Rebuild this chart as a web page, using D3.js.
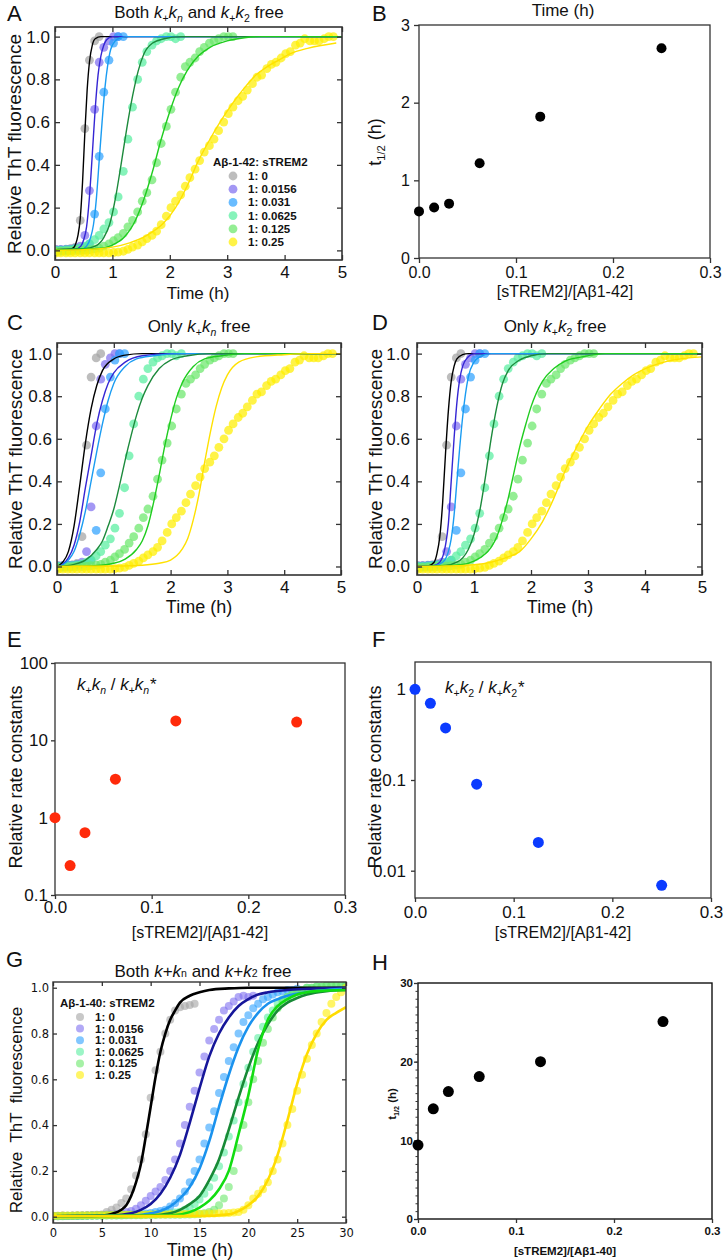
<!DOCTYPE html>
<meta charset="utf-8">
<style>
body { margin: 0; background: #fff; }
svg text { fill: #111; white-space: pre; }
</style>
<body>
<div id="figure"></div>
<script src="https://cdn.jsdelivr.net/npm/d3@7"></script>
<script>

// sTREM2 : Abeta ratios, one colour per series
var ratioLabels = ["1: 0", "1: 0.0156", "1: 0.031", "1: 0.0625", "1: 0.125", "1: 0.25"];
var dotColors = ["#a3a3a3", "#7f6ff0", "#2fa2ff", "#58eea0", "#6be86b", "#ffef00"];
var fitColors42 = ["#000000", "#3526d4", "#1a9cf2", "#1c8a3c", "#1fcc1f", "#ffe100"];
var fitColors40 = ["#000000", "#16169a", "#1a92ee", "#178a36", "#12dd12", "#ffdc00"];

// Abeta1-42 ThT kinetics (A, C, D share the same measurements), time in h
var time42 = [0.02,0.10,0.19,0.27,0.35,0.44,0.52,0.60,0.69,0.77,0.85,0.94,1.02,1.10,1.19,1.27,1.35,1.44,1.52,1.60,
  1.69,1.77,1.85,1.94,2.02,2.10,2.19,2.27,2.35,2.44,2.52,2.60,2.69,2.77,2.85,2.94,3.02,3.10,3.19,3.27,
  3.35,3.44,3.52,3.60,3.69,3.77,3.85,3.94,4.02,4.10,4.19,4.27,4.35,4.44,4.52,4.60,4.69,4.77,4.85];
var tht42_0 = [0.004,0.004,0.006,0.008,0.014,0.14,0.57,0.89,0.98,1.0];
var tht42_1 = [0.003,0.004,0.004,0.006,0.01,0.02,0.07,0.28,0.66,0.88,0.95,0.98,1.0,1.0];
var tht42_2 = [0.0,0.002,0.004,0.005,0.008,0.01,0.015,0.03,0.17,0.44,0.74,0.89,0.97,1.0,1.0];
var tht42_3 = [0.0,0.0,0.002,0.004,0.008,0.012,0.02,0.03,0.05,0.07,0.1,0.13,0.18,0.25,0.37,0.52,0.67,0.8,0.88,0.93,
  0.96,0.98,0.99,1.0,1.0,0.99,1.0];
var tht42_4 = [-0.005,-0.004,-0.003,-0.002,0,0,0.002,0.004,0.007,0.01,0.02,0.03,0.045,0.06,0.08,0.11,0.14,0.18,0.23,0.27,
  0.33,0.41,0.5,0.58,0.66,0.74,0.81,0.86,0.88,0.9,0.93,0.95,0.97,0.98,0.99,1.0,1.0,1.0];
var tht42_5 = [-0.012,-0.012,-0.012,-0.012,-0.012,-0.012,-0.012,-0.012,-0.012,-0.012,-0.012,-0.012,
  -0.01,-0.008,-0.004,0.005,0.015,0.025,0.04,0.055,0.07,0.09,0.12,0.16,0.2,0.23,0.26,0.3,0.34,0.38,
  0.42,0.46,0.49,0.52,0.56,0.6,0.64,0.67,0.7,0.72,0.75,0.78,0.81,0.82,0.85,0.87,0.88,0.9,0.92,0.93,
  0.96,0.97,0.99,0.98,0.98,0.98,0.99,1.0,1.0];

// fitted curves, [time, relative fluorescence]
var fitA_0 = [[0,0.003],[0.25,0.005],[0.32,0.012],[0.36,0.03],[0.4,0.07],[0.44,0.15],[0.48,0.32],[0.52,0.55],[0.56,0.75],[0.6,0.88],[0.65,0.96],[0.7,0.99],[0.8,1.0],[5,1.0]];
var fitA_1 = [[0,0.003],[0.35,0.005],[0.45,0.02],[0.5,0.05],[0.55,0.11],[0.6,0.25],[0.65,0.45],[0.7,0.66],[0.75,0.82],[0.8,0.91],[0.85,0.96],[0.9,0.985],[1.0,1.0],[5,1.0]];
var fitA_2 = [[0,0.003],[0.45,0.005],[0.55,0.02],[0.62,0.06],[0.67,0.12],[0.72,0.24],[0.77,0.42],[0.82,0.6],[0.87,0.76],[0.92,0.87],[0.97,0.94],[1.05,0.98],[1.15,0.995],[1.25,1.0],[5,1.0]];
var fitA_3 = [[0,0.003],[0.5,0.008],[0.7,0.02],[0.85,0.06],[0.95,0.12],[1.05,0.24],[1.15,0.4],[1.25,0.57],[1.35,0.72],[1.45,0.84],[1.55,0.92],[1.7,0.97],[1.9,0.99],[2.2,1.0],[5,1.0]];
var fitA_4 = [[0,0.003],[0.8,0.01],[1.0,0.025],[1.2,0.06],[1.4,0.14],[1.55,0.24],[1.7,0.37],[1.85,0.52],[2.0,0.65],[2.15,0.76],[2.3,0.84],[2.5,0.91],[2.7,0.95],[3.0,0.98],[3.3,0.995],[3.6,1.0],[5,1.0]];
var fitA_5 = [[0,0],[0.5,0.003],[1.0,0.015],[1.3,0.035],[1.6,0.07],[1.9,0.13],[2.1,0.2],[2.3,0.3],[2.5,0.42],[2.7,0.52],[2.9,0.61],[3.1,0.69],[3.3,0.76],[3.5,0.82],[3.7,0.86],[3.9,0.89],[4.1,0.92],[4.4,0.945],[4.9,0.97]];

var fitC_0 = [[0,0],[0.1,0.02],[0.2,0.07],[0.3,0.19],[0.4,0.38],[0.5,0.58],[0.6,0.74],[0.7,0.85],[0.8,0.92],[1.0,0.975],[1.2,0.993],[1.5,1.0],[5,1.0]];
var fitC_1 = [[0,0],[0.1,0.01],[0.2,0.04],[0.3,0.1],[0.4,0.21],[0.5,0.37],[0.6,0.52],[0.7,0.67],[0.8,0.78],[0.9,0.86],[1.0,0.91],[1.2,0.96],[1.5,0.99],[2.0,1.0],[5,1.0]];
var fitC_2 = [[0,0],[0.1,0.008],[0.2,0.03],[0.3,0.07],[0.4,0.15],[0.5,0.26],[0.6,0.4],[0.7,0.54],[0.8,0.67],[0.9,0.78],[1.0,0.86],[1.2,0.94],[1.4,0.975],[1.7,0.99],[2.2,1.0],[5,1.0]];
var fitC_3 = [[0,0],[0.3,0.01],[0.5,0.03],[0.7,0.08],[0.8,0.12],[0.9,0.19],[1.0,0.27],[1.1,0.38],[1.2,0.5],[1.3,0.61],[1.4,0.71],[1.5,0.79],[1.6,0.85],[1.8,0.93],[2.0,0.97],[2.3,0.99],[2.7,1.0],[5,1.0]];
var fitC_4 = [[0,0],[0.6,0.003],[1.0,0.015],[1.2,0.035],[1.4,0.08],[1.5,0.12],[1.6,0.19],[1.7,0.3],[1.8,0.43],[1.9,0.57],[2.0,0.69],[2.1,0.79],[2.2,0.86],[2.4,0.94],[2.6,0.975],[2.9,0.99],[3.3,1.0],[5,1.0]];
var fitC_5 = [[0,0],[1.0,0.002],[1.5,0.006],[1.8,0.015],[2.0,0.03],[2.2,0.08],[2.3,0.13],[2.4,0.22],[2.5,0.34],[2.6,0.49],[2.7,0.63],[2.8,0.75],[2.9,0.84],[3.0,0.9],[3.2,0.96],[3.5,0.985],[4.0,0.995],[4.5,1.0],[5,1.0]];

var fitD_0 = [[0,0],[0.2,0.003],[0.3,0.02],[0.35,0.06],[0.4,0.14],[0.45,0.3],[0.5,0.53],[0.55,0.73],[0.6,0.87],[0.65,0.94],[0.7,0.975],[0.8,0.995],[0.9,1.0],[5,1.0]];
var fitD_1 = [[0,0],[0.3,0.005],[0.4,0.02],[0.5,0.1],[0.55,0.2],[0.6,0.4],[0.65,0.6],[0.7,0.77],[0.75,0.88],[0.8,0.94],[0.9,0.985],[1.0,1.0],[5,1.0]];
var fitD_2 = [[0,0],[0.3,0.003],[0.45,0.02],[0.55,0.07],[0.6,0.13],[0.65,0.24],[0.7,0.4],[0.75,0.56],[0.8,0.7],[0.85,0.81],[0.9,0.89],[1.0,0.96],[1.1,0.985],[1.3,1.0],[5,1.0]];
var fitD_3 = [[0,0],[0.5,0.005],[0.7,0.02],[0.8,0.04],[0.9,0.08],[1.0,0.15],[1.1,0.26],[1.2,0.42],[1.3,0.6],[1.4,0.75],[1.5,0.86],[1.6,0.92],[1.8,0.97],[2.0,0.99],[2.3,1.0],[5,1.0]];
var fitD_4 = [[0,0],[0.8,0.01],[1.0,0.025],[1.2,0.06],[1.3,0.09],[1.4,0.14],[1.5,0.22],[1.6,0.32],[1.7,0.44],[1.8,0.56],[1.9,0.66],[2.0,0.75],[2.2,0.87],[2.4,0.93],[2.6,0.965],[2.9,0.985],[3.3,1.0],[5,1.0]];
var fitD_5 = [[0,0],[0.5,0.002],[1.0,0.008],[1.3,0.02],[1.6,0.045],[1.8,0.07],[2.0,0.13],[2.2,0.21],[2.4,0.32],[2.6,0.45],[2.8,0.56],[3.0,0.66],[3.2,0.74],[3.4,0.81],[3.6,0.86],[3.8,0.9],[4.1,0.94],[4.4,0.965],[5,0.985]];

// Abeta1-40 ThT kinetics (G), time in h
var time40 = [0,0.5,1,1.5,2,2.5,3,3.5,4,4.5,5,5.5,6,6.5,7,7.5,8,8.5,9,9.5,10,10.5,11,11.5,12,12.5,13,13.5,14,14.5,
  15,15.5,16,16.5,17,17.5,18,18.5,19,19.5,20,20.5,21,21.5,22,22.5,23,23.5,24,24.5,25,25.5,26,26.5,27,27.5,28,28.5,29,29.5,30];
var tht40_0 = [0.004,0.004,0.005,0.004,0.005,0.006,0.005,0.006,0.007,0.008,0.01,0.02,0.03,0.04,0.06,0.08,0.12,0.18,0.25,0.36,
  0.52,0.64,0.72,0.8,0.86,0.9,0.915,0.92,0.925,0.93];
var tht40_1 = [0.003,0.003,0.004,0.003,0.004,0.004,0.005,0.005,0.006,0.006,0.007,0.008,0.01,0.012,0.015,0.02,0.025,0.035,0.05,0.07,
  0.09,0.11,0.13,0.16,0.2,0.25,0.32,0.4,0.48,0.55,0.63,0.7,0.77,0.82,0.86,0.9,0.92,0.94,0.96,0.965,0.96,0.965];
var tht40_2 = [0.003,0.003,0.003,0.004,0.004,0.004,0.005,0.005,0.005,0.006,0.006,0.007,0.007,0.008,0.008,0.009,0.01,0.011,0.012,0.014,
  0.016,0.02,0.025,0.03,0.045,0.06,0.08,0.11,0.15,0.2,0.25,0.32,0.39,0.46,0.54,0.61,0.68,0.74,0.8,0.85,
  0.88,0.91,0.93,0.95,0.96,0.97,0.98,0.985,0.99,0.99,0.995];
var tht40_3 = [0.002,0.002,0.003,0.003,0.003,0.004,0.004,0.004,0.005,0.005,0.005,0.006,0.006,0.006,0.007,0.007,0.008,0.008,0.009,0.01,
  0.01,0.011,0.012,0.013,0.015,0.018,0.022,0.03,0.04,0.055,0.075,0.1,0.13,0.17,0.22,0.28,0.35,0.42,0.5,0.58,
  0.65,0.72,0.78,0.83,0.87,0.9,0.93,0.95,0.96,0.975,0.985,0.99,1.0,1.0,1.005,1.005,1.01,1.01,1.01,1.01,1.01];
var tht40_4 = [0.002,0.002,0.002,0.003,0.003,0.003,0.003,0.004,0.004,0.004,0.004,0.005,0.005,0.005,0.005,0.006,0.006,0.006,0.006,0.007,
  0.007,0.007,0.008,0.008,0.008,0.009,0.009,0.01,0.01,0.011,0.012,0.015,0.02,0.03,0.05,0.08,0.13,0.2,0.3,0.4,
  0.5,0.6,0.68,0.76,0.82,0.87,0.91,0.94,0.96,0.97,0.98,0.99,1.0,1.0,1.005,1.005,1.01,1.01,1.01,1.01,1.01];
var tht40_5 = [0.004,0.004,0.005,0.005,0.005,0.006,0.006,0.006,0.006,0.007,0.007,0.007,0.007,0.008,0.008,0.008,0.008,0.009,0.009,0.009,
  0.01,0.01,0.01,0.01,0.011,0.011,0.011,0.012,0.012,0.012,0.013,0.013,0.014,0.014,0.015,0.015,0.016,0.018,0.02,0.03,
  0.05,0.08,0.1,0.12,0.15,0.2,0.25,0.32,0.4,0.47,0.55,0.62,0.69,0.75,0.8,0.85,0.89,0.93,0.96,0.98,1.0];

var fitG_0 = [[0,0.002],[4,0.003],[5,0.005],[6,0.012],[7,0.03],[7.5,0.05],[8,0.09],[8.5,0.15],[9,0.23],[9.5,0.35],[10,0.48],[10.5,0.61],[11,0.72],[11.5,0.8],[12,0.86],[12.5,0.9],[13,0.935],[14,0.965],[15,0.98],[16,0.99],[18,0.997],[20,1.0],[30,1.0]];
var fitG_1 = [[0,0.002],[6,0.005],[8,0.015],[9,0.03],[10,0.055],[11,0.1],[12,0.17],[13,0.27],[14,0.41],[15,0.56],[16,0.7],[17,0.8],[18,0.87],[19,0.92],[20,0.95],[21,0.97],[22,0.98],[24,0.99],[26,0.995],[30,1.0]];
var fitG_2 = [[0,0.002],[8,0.005],[10,0.015],[11,0.025],[12,0.045],[13,0.08],[14,0.13],[15,0.21],[16,0.33],[17,0.48],[18,0.62],[19,0.74],[20,0.83],[21,0.89],[22,0.93],[23,0.95],[24,0.965],[26,0.98],[28,0.99],[30,0.995]];
var fitG_3 = [[0,0.002],[10,0.005],[12,0.015],[13,0.03],[14,0.055],[15,0.09],[16,0.16],[17,0.25],[18,0.38],[19,0.52],[20,0.65],[21,0.76],[22,0.84],[23,0.9],[24,0.935],[25,0.955],[26,0.97],[28,0.985],[30,0.99]];
var fitG_4 = [[0,0.002],[12,0.005],[14,0.02],[15,0.04],[16,0.07],[17,0.12],[18,0.2],[19,0.36],[20,0.53],[21,0.73],[22,0.86],[23,0.92],[24,0.95],[25,0.97],[27,0.985],[30,0.99]];
var fitG_5 = [[0,0.002],[15,0.003],[18,0.01],[19,0.025],[20,0.05],[21,0.09],[22,0.16],[23,0.27],[24,0.42],[25,0.58],[26,0.71],[27,0.8],[28,0.86],[29,0.89],[30,0.915]];

// summary panels
var ratio = [0, 0.0156, 0.031, 0.0625, 0.125, 0.25];
var tHalf42 = [0.6, 0.65, 0.7, 1.22, 1.82, 2.7];
var knRel = [1, 0.24, 0.64, 3.15, 17.8, 17.2];
var k2Rel = [1, 0.7, 0.375, 0.09, 0.0205, 0.0069];
var tHalf40 = [9.4, 14, 16.2, 18.1, 20, 25.1];

var SANS = "'Liberation Sans', Arial, Helvetica, sans-serif";

var svg = d3.select("#figure").append("svg")
    .attr("width", 725).attr("height", 1260)
    .style("font-family", SANS);

// text with italic / subscript pieces
function rich(parent, x, y, size, anchor, parts) {
  var t = parent.append("text").attr("x", x).attr("y", y)
      .attr("font-size", size).attr("text-anchor", anchor);
  var shift = 0;
  parts.forEach(function(p) {
    var s = typeof p === "string" ? {t: p} : p;
    var ts = t.append("tspan").text(s.t);
    var want = s.sub ? size * s.sub : 0;
    if (want !== shift) { ts.attr("dy", want - shift); shift = want; }
    if (s.sub || s.small) ts.attr("font-size", size * (s.small || 0.62));
    if (s.i) ts.attr("font-style", "italic");
  });
  return t;
}

function vlabel(x, y, size, parts, weight) {
  var g = svg.append("g").attr("transform", `translate(${x},${y}) rotate(-90)`);
  var t = rich(g, 0, 0, size, "middle", parts);
  if (weight) t.attr("font-weight", weight);
  return t;
}

function styleAxis(sel, o) {
  sel.attr("font-size", null).attr("font-family", null).attr("color", "#333");
  sel.select(".domain").remove();
  sel.selectAll(".tick line").attr("stroke-width", o.tw || 1.3);
  sel.selectAll("text").attr("font-size", o.fs).attr("font-family", o.ff || SANS)
    .attr("font-weight", o.fw || null).style("fill", "#111");
}

var noLabel = function() { return ""; };

// ThT kinetics panel: dots + fitted lines, ticks inward on all four sides
function kinetic(o) {
  var x = d3.scaleLinear().domain(o.xd).range([o.l, o.r]);
  var y = d3.scaleLinear().domain(o.yd).range([o.b, o.t]);
  var g = svg.append("g");
  g.append("clipPath").attr("id", "clip" + o.id).append("rect")
    .attr("x", o.l).attr("y", o.t).attr("width", o.r - o.l).attr("height", o.b - o.t);
  var plot = g.append("g").attr("clip-path", `url(#clip${o.id})`);

  o.dots.forEach(function(ys, i) {
    plot.append("g").selectAll("circle").data(ys).join("circle")
      .attr("cx", (d, k) => x(o.times[k]))
      .attr("cy", d => y(d))
      .attr("r", o.rad)
      .attr("fill", dotColors[i])
      .attr("fill-opacity", o.op);
  });

  var line = d3.line().x(d => x(d[0])).y(d => y(d[1])).curve(d3.curveMonotoneX);
  plot.selectAll("path.fit").data(o.fits).join("path")
    .attr("class", "fit")
    .attr("d", line)
    .attr("fill", "none")
    .attr("stroke", (d, i) => o.fitColors[i])
    .attr("stroke-width", o.lw);

  var st = {fs: o.fs, ff: o.ff, tw: o.tw};
  g.append("g").attr("transform", `translate(0,${o.b})`)
    .call(d3.axisBottom(x).tickValues(o.xt).tickFormat(d3.format("d")).tickSize(-o.tick).tickPadding(o.xpad))
    .call(styleAxis, st);
  g.append("g").attr("transform", `translate(0,${o.t})`)
    .call(d3.axisTop(x).tickValues(o.xt).tickFormat(noLabel).tickSize(-o.tick))
    .call(styleAxis, st);
  g.append("g").attr("transform", `translate(${o.l},0)`)
    .call(d3.axisLeft(y).tickValues(o.yt).tickFormat(d3.format(".1f")).tickSize(-o.tick).tickPadding(o.ypad))
    .call(styleAxis, st);
  g.append("g").attr("transform", `translate(${o.r},0)`)
    .call(d3.axisRight(y).tickValues(o.yt).tickFormat(noLabel).tickSize(-o.tick))
    .call(styleAxis, st);

  g.append("rect").attr("x", o.l).attr("y", o.t).attr("width", o.r - o.l).attr("height", o.b - o.t)
    .attr("fill", "none").attr("stroke", "#333").attr("stroke-width", o.fw || 1.6);
  return {x: x, y: y};
}

// summary scatter panel: boxed, ticks outward on left and bottom
function scatter(o) {
  var x = d3.scaleLinear().domain([0, 0.3]).range([o.l, o.r]);
  var y = (o.log ? d3.scaleLog() : d3.scaleLinear()).domain(o.yd).range([o.b, o.t]);
  var g = svg.append("g");
  g.append("rect").attr("x", o.l).attr("y", o.t).attr("width", o.r - o.l).attr("height", o.b - o.t)
    .attr("fill", "none").attr("stroke", o.frame || "#333").attr("stroke-width", o.frameW || 1.3);
  var st = {fs: o.fs, fw: o.weight, tw: o.tw};
  if (o.minor) {
    g.append("g").attr("transform", `translate(${o.l},0)`)
      .call(d3.axisLeft(y).tickValues(o.minor).tickFormat(noLabel).tickSize(2.5))
      .call(styleAxis, {fs: o.fs, tw: 1});
  }
  g.append("g").attr("transform", `translate(${o.l},0)`)
    .call(d3.axisLeft(y).tickValues(o.yt).tickFormat(o.yf).tickSize(o.tick).tickPadding(o.ypad))
    .call(styleAxis, st);
  g.append("g").attr("transform", `translate(0,${o.b})`)
    .call(d3.axisBottom(x).tickValues([0, 0.1, 0.2, 0.3]).tickFormat(d3.format(".1f")).tickSize(o.tick).tickPadding(o.xpad))
    .call(styleAxis, st);
  g.append("g").selectAll("circle").data(o.values).join("circle")
    .attr("cx", (d, i) => x(ratio[i]))
    .attr("cy", d => y(d))
    .attr("r", o.rad)
    .attr("fill", o.color);
}

function legend(x0, y0, step, title, rad, op) {
  var g = svg.append("g").attr("font-weight", "bold").attr("font-size", 11.5);
  g.append("text").attr("x", x0).attr("y", y0).text(title);
  var row = g.selectAll("g.row").data(ratioLabels).join("g").attr("class", "row")
    .attr("transform", (d, i) => `translate(${x0 + 20},${y0 + 10 + step * i})`);
  row.append("circle").attr("r", rad).attr("fill", (d, i) => dotColors[i]).attr("fill-opacity", op);
  row.append("text").attr("x", 15).attr("y", 4).text(d => d);
}

function panelLetter(x, y, s) {
  svg.append("text").attr("x", x).attr("y", y).attr("font-size", 22).text(s);
}

var dots42 = [tht42_0, tht42_1, tht42_2, tht42_3, tht42_4, tht42_5];
var dots40 = [tht40_0, tht40_1, tht40_2, tht40_3, tht40_4, tht40_5];
var kinBase = {xd: [0, 5], xt: [0, 1, 2, 3, 4, 5], yt: [0, 0.2, 0.4, 0.6, 0.8, 1.0], times: time42,
  dots: dots42, fitColors: fitColors42, rad: 4.4, op: 0.72, lw: 1.4, tick: 5, fs: 17, ff: SANS};

var kPlus = [{t: "k", i: 1}, {t: "+", sub: 0.22}];
var knParts = kPlus.concat([{t: "k", i: 1}, {t: "n", i: 1, sub: 0.22}]);
var k2Parts = kPlus.concat([{t: "k", i: 1}, {t: "2", sub: 0.22}]);
var yKin = ["Relative ThT fluorescence"];

// ---- A ----
kinetic(Object.assign({}, kinBase, {id: "A", l: 55, r: 342, t: 27, b: 260, yd: [-0.045, 1.045], xpad: 6, ypad: 5,
  fits: [fitA_0, fitA_1, fitA_2, fitA_3, fitA_4, fitA_5]}));
panelLetter(7, 21, "A");
rich(svg, 199, 18, 17, "middle", ["Both "].concat(knParts, [" and "], k2Parts, [" free"]));
svg.append("text").attr("x", 198).attr("y", 299).attr("font-size", 17).attr("text-anchor", "middle").text("Time (h)");
vlabel(21, 144, 19, yKin);
legend(213, 166, 13.2, "Aβ-1-42: sTREM2", 4.4, 0.72);

// ---- B ----
scatter({l: 419, r: 710, t: 25, b: 258, yd: [0, 3], yt: [0, 1, 2, 3], yf: d3.format("d"), values: tHalf42,
  color: "#000", rad: 5, fs: 16, tick: 5, xpad: 4, ypad: 4});
panelLetter(372, 21, "B");
svg.append("text").attr("x", 563).attr("y", 16).attr("font-size", 17).attr("text-anchor", "middle").text("Time (h)");
svg.append("text").attr("x", 565).attr("y", 297).attr("font-size", 16).attr("text-anchor", "middle").text("[sTREM2]/[Aβ1-42]");
vlabel(381, 142, 18, ["t", {t: "1/2", sub: 0.22}, " (h)"]);

// ---- C ----
kinetic(Object.assign({}, kinBase, {id: "C", l: 57, r: 341, t: 343, b: 575, yd: [-0.04, 1.05], xpad: 6, ypad: 5,
  fits: [fitC_0, fitC_1, fitC_2, fitC_3, fitC_4, fitC_5]}));
panelLetter(7, 330, "C");
rich(svg, 199, 332, 17, "middle", ["Only "].concat(knParts, [" free"]));
svg.append("text").attr("x", 199).attr("y", 613).attr("font-size", 18).attr("text-anchor", "middle").text("Time (h)");
vlabel(22, 459, 19, yKin);

// ---- D ----
kinetic(Object.assign({}, kinBase, {id: "D", l: 417, r: 702, t: 343, b: 575, yd: [-0.04, 1.05], xpad: 6, ypad: 7,
  fits: [fitD_0, fitD_1, fitD_2, fitD_3, fitD_4, fitD_5]}));
panelLetter(372, 330, "D");
rich(svg, 555, 332, 17, "middle", ["Only "].concat(k2Parts, [" free"]));
svg.append("text").attr("x", 560).attr("y", 613).attr("font-size", 18).attr("text-anchor", "middle").text("Time (h)");
vlabel(382, 459, 19, yKin);

// ---- E ----
scatter({l: 55, r: 345, t: 663, b: 895, log: true, yd: [0.1, 100], yt: [0.1, 1, 10, 100], yf: d3.format("~g"),
  values: knRel, color: "#ff2a0a", rad: 5.5, fs: 17, tick: 4, xpad: 2, ypad: 3});
panelLetter(7, 647, "E");
rich(svg, 77, 690, 17, "start", knParts.concat([" / "], knParts, [{t: "*", i: 1}]));
svg.append("text").attr("x", 200).attr("y", 938).attr("font-size", 16).attr("text-anchor", "middle").text("[sTREM2]/[Aβ1-42]");
vlabel(22, 777, 18, ["Relative rate constants"]);

// ---- F ----
scatter({l: 415, r: 711, t: 662, b: 898, log: true, yd: [0.005, 2], yt: [0.01, 0.1, 1], yf: d3.format("~g"),
  values: k2Rel, color: "#0b3bff", rad: 5.5, fs: 17, tick: 4, xpad: 4, ypad: 5});
panelLetter(372, 647, "F");
rich(svg, 445, 693, 17, "start", k2Parts.concat([" / "], k2Parts, [{t: "*", i: 1}]));
svg.append("text").attr("x", 563).attr("y", 938).attr("font-size", 16).attr("text-anchor", "middle").text("[sTREM2]/[Aβ1-42]");
vlabel(381, 777, 18, ["Relative rate constants"]);

// ---- G ----
kinetic({id: "G", l: 53, r: 346, t: 982, b: 1223, xd: [0, 30], yd: [-0.0275, 1.025],
  xt: [0, 5, 10, 15, 20, 25, 30], yt: [0, 0.2, 0.4, 0.6, 0.8, 1.0], times: time40, dots: dots40,
  fits: [fitG_0, fitG_1, fitG_2, fitG_3, fitG_4, fitG_5], fitColors: fitColors40,
  rad: 4, op: 0.6, lw: 2.6, tick: 4, fs: 11.5, ff: "'DejaVu Sans', Verdana, sans-serif", xpad: 6, ypad: 4, fw: 1.4});
panelLetter(6, 967, "G");
rich(svg, 203, 977, 17, "middle", ["Both ", {t: "k", i: 1}, "+", {t: "k", i: 1}, {t: "n", small: 0.62},
  " and ", {t: "k", i: 1}, "+", {t: "k", i: 1}, {t: "2", small: 0.62}, " free"]);
svg.append("text").attr("x", 200).attr("y", 1256).attr("font-size", 18).attr("text-anchor", "middle").text("Time (h)");
vlabel(22, 1110, 17, ["Relative  ThT  fluorescence"]);
legend(60, 1007, 11.6, "Aβ-1-40: sTREM2", 4, 0.6);

// ---- H ----
scatter({l: 418, r: 712, t: 983, b: 1219, yd: [0, 30], yt: [0, 10, 20, 30], yf: d3.format("d"),
  minor: d3.range(0, 31), values: tHalf40, color: "#000", rad: 5.5, fs: 11.5, weight: "bold",
  tick: 4, xpad: 4, ypad: 1, frame: "#111", frameW: 1.4, tw: 1.3});
panelLetter(372, 970, "H");
svg.append("text").attr("x", 565).attr("y", 1255).attr("font-size", 11.5).attr("font-weight", "bold")
  .attr("text-anchor", "middle").text("[sTREM2]/[Aβ1-40]");
vlabel(396, 1104, 11.5, ["t", {t: "1/2", sub: 0.22}, " (h)"], "bold");

</script>
</body>
